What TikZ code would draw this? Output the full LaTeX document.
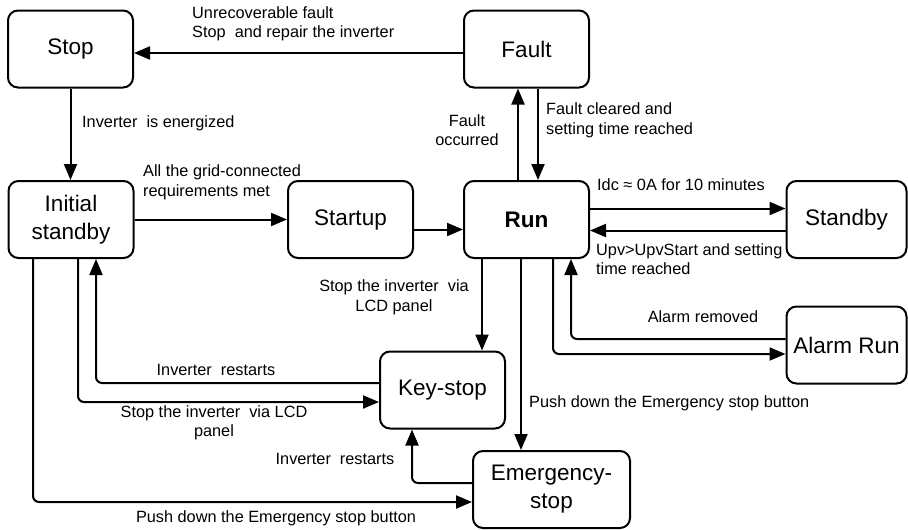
\documentclass[tikz,border=0pt]{standalone}
\usepackage{fontspec}
\setmainfont{Liberation Sans}
\usetikzlibrary{arrows.meta}

\begin{document}
\begin{tikzpicture}[x=1pt, y=-1pt,
    state/.style={draw, line width=2pt, rounded corners=10pt, align=center,
      minimum width=125pt, minimum height=77pt, inner sep=2pt,
      font=\fontsize{22.5}{28}\selectfont},
    lbl/.style={inner sep=0pt, font=\fontsize{16.3}{19.5}\selectfont},
    arr/.style={line width=2pt, rounded corners=6pt,
      -{Triangle[length=16pt, width=13pt]}}]
  \useasboundingbox (0,0) rectangle (908,530);

  % States
  \node[state] (stop) at (70.5,49) {Stop};
  \node[state] (fault) at (526.5,49) {Fault};
  \node[state] (init) at (71,219.5) {Initial\\standby};
  \node[state] (startup) at (350.5,219.5) {Startup};
  \node[state] (run) at (526.5,219.5) {\textbf{Run}};
  \node[state, minimum width=120pt] (standby) at (846.5,219.5) {Standby};
  \node[state, minimum width=120pt] (alarm) at (846.5,345) {Alarm Run};
  \node[state] (keystop) at (442.5,390) {Key-stop};
  \node[state, minimum width=157pt] (emerg) at (551.5,489.5) {Emergency-\\stop};

  % Upper transitions
  \draw[arr] ([yshift=-4pt]fault.west) -- ([yshift=-4pt]stop.east);
  \draw[arr] (stop.south) -- (stop.south |- init.north);
  \draw[arr] (init.east) -- (startup.west);
  \draw[arr] ([yshift=-10pt]startup.east) -- ([yshift=-10pt]run.west);
  \draw[arr] ([xshift=-8.5pt]run.north) -- ([xshift=-8.5pt]fault.south);
  \draw[arr] ([xshift=11.5pt]fault.south) -- ([xshift=11.5pt]run.north);
  \draw[arr] ([yshift=11pt]run.east) -- ([yshift=11pt]standby.west);
  \draw[arr] ([yshift=-11pt]standby.west) -- ([yshift=-11pt]run.east);

  % Run to lower states
  \draw[arr] ([xshift=-44.5pt]run.south) -- ([xshift=-44.5pt]run.south |- keystop.north);
  \draw[arr] ([xshift=-5.5pt]run.south) -- ([xshift=-5.5pt]run.south |- emerg.north);
  \draw[arr] ([xshift=26.5pt]run.south) |- ([yshift=-9pt]alarm.west);
  \draw[arr] ([yshift=6pt]alarm.west) -| ([xshift=44.5pt]run.south);

  % Initial standby, Key-stop and Emergency-stop
  \draw[arr] ([yshift=7pt]keystop.west) -| ([xshift=25pt]init.south);
  \draw[arr] ([xshift=7pt]init.south) |- ([yshift=-12pt]keystop.west);
  \draw[arr] ([yshift=6.5pt]emerg.west) -| ([xshift=-30.5pt]keystop.south);
  \draw[arr] ([xshift=-38pt]init.south) |- ([yshift=-12.5pt]emerg.west);

  % Labels
  \node[lbl, anchor=west, align=left] (l1) at (192,24) {Unrecoverable fault\\Stop~ and repair the inverter};
  \node[lbl, anchor=west] (l2) at (82,123) {Inverter~ is energized};
  \node[lbl, anchor=west, align=left] (l3) at (143,182.5) {All the grid-connected\\requirements met};
  \node[lbl, align=center] (l4) at (467,130) {Fault\\occurred};
  \node[lbl, anchor=west, align=left] (l5) at (546,120.5) {Fault cleared and\\setting time reached};
  \node[lbl, anchor=west] (l6) at (597,185) {Idc ≈ 0A for 10 minutes};
  \node[lbl, anchor=west, align=left] (l7) at (596,259) {Upv>UpvStart and setting\\time reached};
  \node[lbl, align=center] (l8) at (394,297.5) {Stop the inverter~ via\\LCD panel};
  \node[lbl, anchor=west] (l9) at (529,403) {Push down the Emergency stop button};
  \node[lbl] (l10) at (703,317) {Alarm removed};
  \node[lbl] (l11) at (216,370) {Inverter~ restarts};
  \node[lbl, align=center] (l12) at (214,423) {Stop the inverter~ via LCD\\panel};
  \node[lbl] (l13) at (335,459) {Inverter~ restarts};
  \node[lbl] (l14) at (276,518) {Push down the Emergency stop button};
\end{tikzpicture}
\end{document}
